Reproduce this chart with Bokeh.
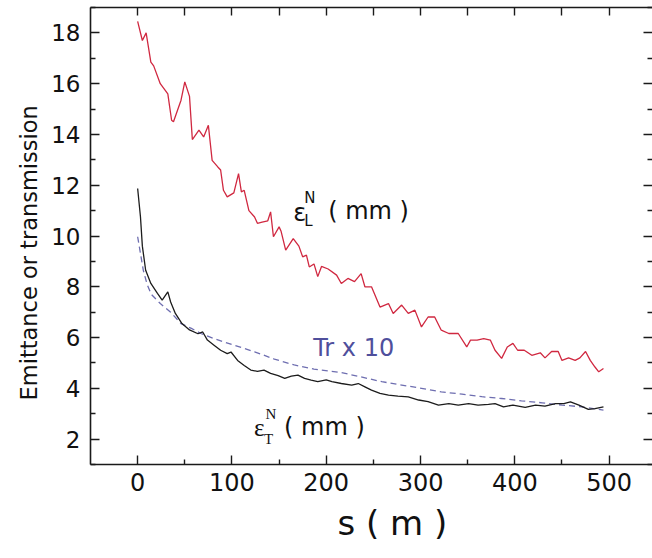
from bokeh.plotting import figure
from bokeh.models import LinearAxis, FixedTicker, Range1d, Label, Title, CustomJSTickFormatter
from bokeh.embed import file_html
from bokeh.resources import INLINE

# ---- data ----
red_s = [0, 5, 9, 14, 17, 24, 32, 36, 38, 46, 50, 55, 58, 65, 70, 75, 79, 85, 88, 91,
         95, 102, 107, 110, 113, 118, 124, 127, 132, 138, 141, 144, 150, 152, 157, 165,
         171, 175, 179, 182, 187, 191, 195, 202, 211, 216, 223, 230, 237, 241, 248, 257,
         266, 271, 280, 287, 294, 301, 308, 315, 322, 330, 340, 349, 353, 360, 367, 374,
         379, 386, 392, 398, 403, 410, 418, 427, 432, 439, 446, 450, 457, 464, 469, 475,
         480, 485, 489, 494]
red_y = [18.45, 17.7, 18.0, 16.85, 16.7, 16.0, 15.6, 14.56, 14.5, 15.35, 16.07, 15.5,
         13.8, 14.17, 13.9, 14.36, 12.98, 12.72, 12.6, 11.8, 11.54, 11.7, 12.46, 11.74,
         11.8, 11.0, 10.75, 10.5, 10.55, 10.6, 10.95, 9.97, 10.36, 10.2, 9.44, 9.9, 9.6,
         9.18, 9.25, 8.78, 8.9, 8.4, 8.8, 8.7, 8.46, 8.13, 8.33, 8.2, 8.52, 8.0, 8.0, 7.2,
         7.34, 6.95, 7.28, 6.95, 7.08, 6.42, 6.81, 6.81, 6.29, 6.16, 6.16, 5.63, 5.9, 5.9,
         5.96, 5.9, 5.5, 5.18, 5.63, 5.77, 5.5, 5.5, 5.3, 5.4, 5.2, 5.45, 5.45, 5.1, 5.2,
         5.1, 5.2, 5.45, 5.1, 4.84, 4.65, 4.78]

black_s = [0, 3, 5, 8.5, 14, 21, 26, 32, 35, 40, 47, 55, 64, 69, 74, 81, 88, 95, 99, 106,
           113, 120, 127, 134, 141, 149, 156, 163, 170, 177, 184, 191, 200, 206, 216, 227,
           234, 241, 248, 257, 266, 276, 287, 298, 308, 319, 330, 340, 351, 361, 372, 379,
           388, 398, 411, 422, 432, 443, 452, 459, 468, 478, 485, 494]
black_y = [11.87, 10.75, 9.6, 8.65, 8.13, 7.74, 7.47, 7.8, 7.4, 6.95, 6.55, 6.3, 6.15,
           6.22, 5.9, 5.7, 5.5, 5.37, 5.43, 5.1, 4.9, 4.72, 4.67, 4.72, 4.59, 4.5, 4.39,
           4.48, 4.52, 4.39, 4.32, 4.26, 4.33, 4.26, 4.19, 4.13, 4.19, 4.06, 3.93, 3.8,
           3.73, 3.69, 3.66, 3.54, 3.48, 3.34, 3.4, 3.34, 3.4, 3.34, 3.37, 3.4, 3.27, 3.34,
           3.25, 3.34, 3.3, 3.4, 3.4, 3.47, 3.34, 3.17, 3.2, 3.27]

tr_s = [0, 6, 10, 14.5, 24, 35, 46, 57, 67, 81, 102, 124, 145, 166, 187, 205, 216, 237,
        259, 280, 301, 322, 344, 365, 386, 407, 429, 450, 471, 494]
tr_y = [9.97, 8.65, 8.1, 7.7, 7.34, 7.0, 6.55, 6.36, 6.16, 5.96, 5.7, 5.44, 5.15, 4.92,
        4.76, 4.67, 4.62, 4.45, 4.26, 4.13, 4.0, 3.86, 3.77, 3.67, 3.6, 3.51, 3.43, 3.34,
        3.27, 3.14]

x_ticks = [0, 100, 200, 300, 400, 500]
x_minor = [50, 150, 250, 350, 450]
y_ticks = [2, 4, 6, 8, 10, 12, 14, 16, 18]
y_minor = [1, 3, 5, 7, 9, 11, 13, 15, 17, 19]

x_title = "s  ( m )"
y_title = "Emittance or transmission"

FONT = "DejaVu Sans"
W, H = 652, 558

p = figure(width=W, height=H, output_backend="svg", toolbar_location=None,
           x_range=Range1d(-50, 546), y_range=Range1d(1, 19),
           min_border_left=90, min_border_right=0, min_border_top=7, min_border_bottom=94,
           background_fill_color="white", border_fill_color="white")
p.outline_line_color = None
p.grid.visible = False

blank = CustomJSTickFormatter(code="return ''")


def style_axis(ax, labels=True):
    ax.axis_line_color = "#1a1a1a"
    ax.axis_line_width = 1.6
    ax.major_tick_line_color = "#1a1a1a"
    ax.minor_tick_line_color = "#1a1a1a"
    ax.major_tick_line_width = 1.4
    ax.minor_tick_line_width = 1.4
    ax.major_tick_in = 9
    ax.major_tick_out = 0
    ax.minor_tick_in = 5
    ax.minor_tick_out = 0
    if not labels:
        ax.formatter = blank
        ax.major_label_standoff = 0


xb = p.xaxis[0]
xb.ticker = FixedTicker(ticks=x_ticks, minor_ticks=x_minor)
style_axis(xb)
xb.major_label_text_font = FONT
xb.major_label_text_font_size = "24px"
xb.major_label_text_color = "#111111"
xb.major_label_standoff = 8

yl = p.yaxis[0]
yl.ticker = FixedTicker(ticks=y_ticks, minor_ticks=y_minor)
style_axis(yl)
yl.major_label_text_font = FONT
yl.major_label_text_font_size = "23px"
yl.major_label_text_color = "#111111"
yl.major_label_standoff = 10

top = LinearAxis(ticker=FixedTicker(ticks=x_ticks + x_minor, minor_ticks=[]))
style_axis(top, labels=False)
top.major_tick_in = 8
p.add_layout(top, "above")

right = LinearAxis(ticker=FixedTicker(ticks=y_ticks, minor_ticks=y_minor))
style_axis(right, labels=False)
right.axis_line_color = None
p.add_layout(right, "right")

# ---- axis titles ----
p.add_layout(Title(text=x_title, align="left", offset=247, standoff=14,
                   text_font=FONT, text_font_size="34px", text_font_style="normal",
                   text_color="#111111"), "below")
p.add_layout(Title(text=y_title, align="left", offset=64, standoff=13,
                   text_font=FONT, text_font_size="22.5px", text_font_style="normal",
                   text_color="#111111"), "left")

# ---- curves ----
p.line(red_s, red_y, line_color="#d02840", line_width=1.3)
p.line(tr_s, tr_y, line_color="#6e6eb0", line_width=1.3, line_dash="6 4")
p.line(black_s, black_y, line_color="#1c1c1c", line_width=1.3)


# ---- annotations ----
def lab(x, y, text, size, font=FONT, color="#111111"):
    p.add_layout(Label(x=x, y=y, text=text, text_font=font, text_font_size=size,
                       text_color=color, text_align="left", text_baseline="middle"))


lab(164.9, 10.91, "ε", "24px")
lab(176.6, 11.5, "N", "15px")
lab(176.6, 10.6, "L", "15px")
lab(202.1, 10.99, "( mm )", "24px")

lab(123.4, 2.46, "ε", "25px", font="Liberation Serif")
lab(135.5, 2.98, "N", "15px", font="Liberation Serif")
lab(134.0, 2.0, "T", "15px", font="Liberation Serif")
lab(155.3, 2.46, "( mm )", "24px")

lab(186.2, 5.58, "Tr x 10", "24px", color="#4f4f9c")

open("out.html", "w").write(file_html(p, INLINE))
